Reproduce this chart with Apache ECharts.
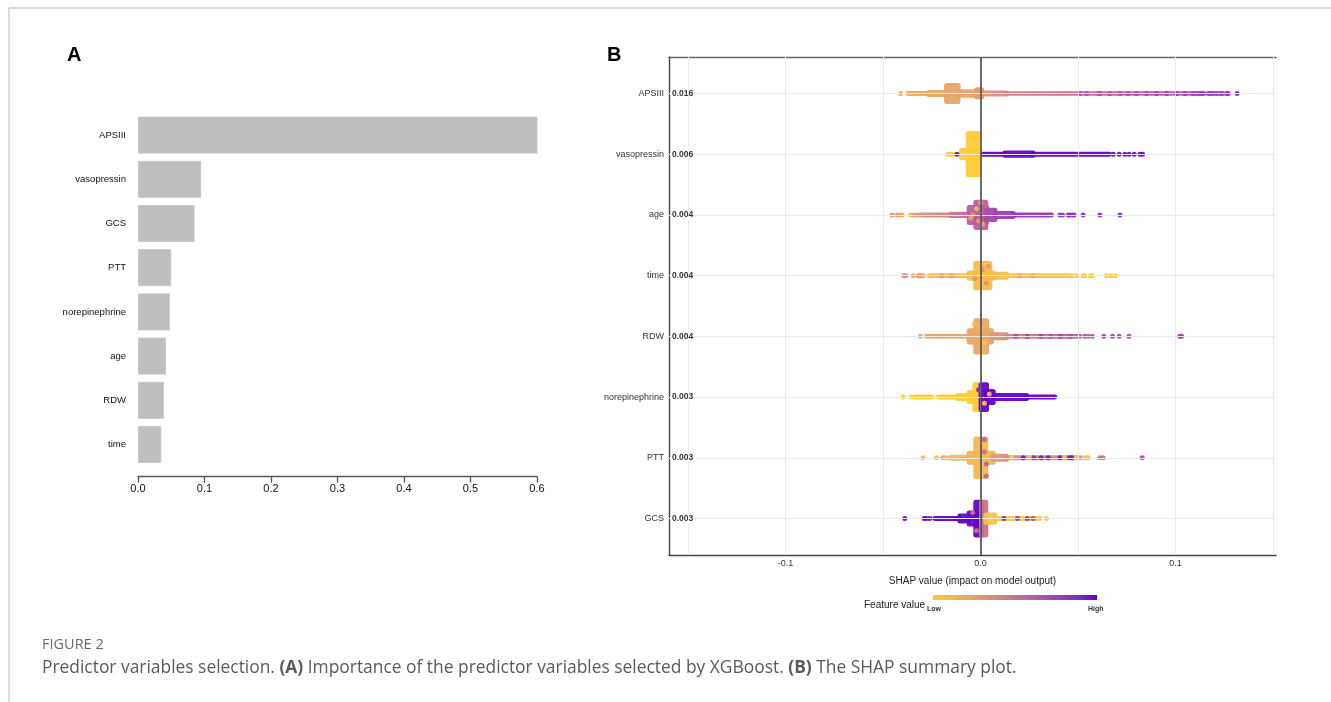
<!DOCTYPE html>
<html><head><meta charset="utf-8">
<script src="https://cdn.jsdelivr.net/npm/echarts@6/dist/echarts.min.js"></script>
<style>html,body{margin:0;padding:0;background:#fff}#c{width:1331px;height:702px}</style>
</head><body><div id="c"></div>
<script>
// ---------- Panel A data ----------
const importanceNames = ['APSIII','vasopressin','GCS','PTT','norepinephrine','age','RDW','time'];
const importanceValues = [0.603,0.095,0.085,0.050,0.048,0.042,0.039,0.035];
const importanceTicks = [0,0.1,0.2,0.3,0.4,0.5,0.6];

// ---------- Panel B data (row 1 = bottom) ----------
const shapNames = ['GCS','PTT','norepinephrine','RDW','time','age','vasopressin','APSIII'];
const shapMeans = ['0.003','0.003','0.003','0.004','0.004','0.004','0.006','0.016'];
const shapTicks = [-0.1, 0, 0.1];
const shapGrid = [-0.15,-0.1,-0.05,0,0.05,0.1,0.15];

// bands: [shapStart, shapEnd, halfSpread(rows), featValStart, featValEnd]
// dots:  [shap, featVal, spreadOffset(rows)]
const apsBands = [[-0.0371,-0.0265,0.041,0.2,0.2],[-0.0265,-0.0174,0.058,0.2,0.22],[-0.0174,-0.0115,0.173,0.22,0.22],
  [-0.0115,-0.0019,0.07,0.22,0.25],[-0.0019,0.0005,0.1,0.25,0.3],[0.0005,0.0133,0.05,0.3,0.4],
  [0.0133,0.060,0.038,0.42,0.55],[0.060,0.1085,0.038,0.55,0.65]];
const apsDots = [[-0.0409,0.2],[0.051,0.7],[0.0544,0.7],[0.0612,0.7],[0.0663,0.7],[0.0715,0.72],[0.0757,0.72],[0.08,0.75],
  [0.0851,0.75],[0.0903,0.78],[0.0954,0.78],[0.1005,0.8],[0.1048,0.8],[0.109,0.8],[0.1106,0.85],[0.112,0.8],[0.1132,0.85],
  [0.1145,0.85],[0.1168,0.85],[0.1181,0.8],[0.1193,0.85],[0.121,0.85],[0.1227,0.8],[0.1241,0.85],[0.1262,0.85],[0.127,0.85],[0.1316,0.9]];

const vasoBands = [[-0.0097,-0.0003,0.1,0,0],[-0.0063,-0.0009,0.38,0,0],[0.0014,0.0125,0.041,1,1],
  [0.0125,0.027,0.06,1,1],[0.027,0.0662,0.041,1,1]];
const vasoDots = [[-0.0166,0],[-0.0155,0],[-0.0145,0],[-0.0135,0],[-0.012,1],[0.0681,1],[0.0711,1],[0.074,1],
  [0.0762,1],[0.0788,1],[0.0817,1],[0.0831,1]];

const ageBands = [[-0.0303,-0.0154,0.041,0.35,0.4],[-0.0154,-0.0063,0.05,0.45,0.6],[-0.0058,0.0031,0.165,0.6,0.62],
  [-0.0024,0.0027,0.25,0.6,0.6],[0.0031,0.0074,0.116,0.7,0.75],[0.0074,0.0168,0.066,0.75,0.8],[0.0168,0.0364,0.041,0.8,0.82]];
const ageDots = [[-0.0453,0.3],[-0.0427,0.3],[-0.041,0.2],[-0.0402,0.2],[-0.0359,0.1],[-0.0345,0.25],[-0.0328,0.3],[-0.032,0.3],
  [0.0407,0.85],[0.0421,0.85],[0.045,0.85],[0.0458,0.85],[0.047,0.8],[0.048,0.85],[0.0526,0.85],[0.0612,0.85],[0.0715,0.85],
  [-0.002,0.1,0.1],[0.001,0.15,-0.15],[-0.004,0.3,0.0],[0.0,0.2,0.2],[-0.005,0.2,-0.05],[-0.001,0.3,-0.1]];

const timeBands = [[-0.0243,-0.0063,0.041,0.1,0.1],[-0.0058,0.0065,0.083,0.08,0.08],[-0.0024,0.0048,0.24,0.08,0.08],
  [0.0065,0.0133,0.066,0.08,0.08],[0.0133,0.0441,0.041,0.06,0.06]];
const timeDots = [[-0.0393,0.35],[-0.0383,0.35],[-0.0345,0.25],[-0.032,0.3],[-0.0311,0.3],[-0.0303,0.25],[-0.0294,0.2],
  [-0.0263,0.1],[-0.0251,0.1],[0.0455,0.05],[0.0467,0.05],[0.0492,0.05],[0.0526,0.05],[0.0535,0.05],[0.0564,0.05],
  [0.0573,0.05],[0.0646,0.05],[0.0668,0.05],[0.0692,0.05],[0.001,0.3,0.1],[-0.003,0.3,-0.05],[0.004,0.25,0.15],
  [0.003,0.3,-0.12],[-0.02,0.3],[-0.015,0.25],[0.02,0.25],[0.027,0.2]];

const rdwBands = [[-0.0262,-0.0058,0.041,0.22,0.22],[-0.0058,0.0056,0.132,0.22,0.22],[-0.0024,0.0031,0.3,0.2,0.2],
  [0.0056,0.0133,0.066,0.3,0.35],[0.0133,0.0511,0.041,0.4,0.6]];
const rdwDots = [[-0.0308,0.22],[-0.0277,0.22],[0.0535,0.7],[0.0552,0.6],[0.0573,0.7],[0.0632,0.75],[0.0677,0.75],
  [0.0711,0.75],[0.0761,0.75],[0.1022,0.8],[0.1031,0.8],[0.018,0.7],[0.024,0.75],[0.031,0.75],[0.036,0.7],[0.041,0.75],
  [0.046,0.7],[0.0,0.05,0.15],[0.002,0.05,-0.1],[-0.003,0.1,0.2],[0.001,0.1,-0.25]];

const norBands = [[-0.0337,-0.0251,0.041,0,0],[-0.0217,-0.0115,0.041,0,0],[-0.0115,-0.0058,0.066,0,0],
  [-0.0058,0.0,0.116,0,0],[-0.0029,0.0,0.245,0,0],[0.0003,0.0031,0.245,1,1],[0.0031,0.0065,0.132,1,1],
  [0.0065,0.0236,0.066,1,1],[0.0236,0.0381,0.041,1,1]];
const norDots = [[-0.0397,0],[-0.0354,0],[0.0045,0.05,0.05],[0.002,0.0,-0.1],[-0.001,0.9,0.12]];

const pttBands = [[-0.0149,-0.0058,0.05,0.12,0.12],[-0.0058,0.0065,0.116,0.12,0.15],[-0.0024,0.0027,0.35,0.12,0.12],
  [0.0065,0.0133,0.066,0.3,0.35],[0.0133,0.0511,0.041,0.35,0.4]];
const pttDots = [[-0.0294,0.1],[-0.0226,0.1],[-0.0195,0.2],[-0.0183,0.15],[-0.0166,0.1],[0.053,0.05],[0.0544,0.05],
  [0.0552,0.05],[0.0612,0.5],[0.0629,0.55],[0.0829,0.75],[0.0219,0.95],[0.0273,0.9],[0.0311,0.95],[0.0347,0.95],
  [0.0407,0.95],[0.0455,0.9],[0.0468,0.95],[0.016,0.0],[0.025,0.05],[0.043,0.05],[0.049,0.0],
  [0.002,0.6,0.3],[0.003,0.6,-0.3],[0.002,0.5,0.1],[0.003,0.6,-0.1]];

const gcsBands = [[-0.0234,-0.0106,0.041,1,1],[-0.0106,-0.0058,0.083,1,1],[-0.0058,0.0,0.132,1,0.95],
  [-0.0024,0.0005,0.31,1,1],[0.0005,0.0027,0.31,0.5,0.5],[0.0027,0.0073,0.1,0.05,0.05],[0.0073,0.0287,0.041,0.05,0.05]];
const gcsDots = [[-0.0388,1],[-0.0289,1],[-0.0277,1],[-0.026,1],[0.0304,0.05],[0.0338,0.05],[0.012,0.9],[0.019,0.85],
  [0.024,0.8],[0.027,0.7],[-0.004,0.5,0.1],[-0.002,0.5,-0.2]];

// ---------- colour scale (Lab interpolation #FFCC33 -> #6600CC) ----------
function hex2rgb(h){return [1,3,5].map(i=>parseInt(h.substr(i,2),16));}
function toLab(rgb){
  const l=rgb.map(c=>{c/=255;return c<=0.04045?c/12.92:Math.pow((c+0.055)/1.055,2.4);});
  const X=(0.4124*l[0]+0.3576*l[1]+0.1805*l[2])/0.95047,Y=0.2126*l[0]+0.7152*l[1]+0.0722*l[2],Z=(0.0193*l[0]+0.1192*l[1]+0.9505*l[2])/1.08883;
  const f=t=>t>0.008856?Math.cbrt(t):7.787*t+16/116;
  return [116*f(Y)-16,500*(f(X)-f(Y)),200*(f(Y)-f(Z))];
}
function fromLab(L,a,b){
  const fy=(L+16)/116,fx=fy+a/500,fz=fy-b/200;
  const fi=t=>t*t*t>0.008856?t*t*t:(t-16/116)/7.787;
  const X=0.95047*fi(fx),Y=fi(fy),Z=1.08883*fi(fz);
  const r=[3.2406*X-1.5372*Y-0.4986*Z,-0.9689*X+1.8758*Y+0.0415*Z,0.0557*X-0.2040*Y+1.0570*Z];
  return 'rgb('+r.map(c=>{c=c<=0.0031308?12.92*c:1.055*Math.pow(c,1/2.4)-0.055;return Math.round(Math.max(0,Math.min(1,c))*255);}).join(',')+')';
}
const labLow=toLab(hex2rgb('#FFCC33')), labHigh=toLab(hex2rgb('#6600CC'));
function fv(t){return fromLab(labLow[0]+(labHigh[0]-labLow[0])*t,labLow[1]+(labHigh[1]-labLow[1])*t,labLow[2]+(labHigh[2]-labLow[2])*t);}

// ---------- assemble ----------
const featureRows = [[gcsBands,gcsDots],[pttBands,pttDots],[norBands,norDots],[rdwBands,rdwDots],
  [timeBands,timeDots],[ageBands,ageDots],[vasoBands,vasoDots],[apsBands,apsDots]];
const bandData=[], dotData=[];
featureRows.forEach((fr,i)=>{
  const row=i+1;
  fr[0].forEach(b=>bandData.push([row,b[0],b[1],b[2],b[3],b[4]]));
  fr[1].forEach(d=>dotData.push([d[0],row+(d[2]||0),d[1]]));
});

const chart = echarts.init(document.getElementById('c'), null, {renderer:'canvas'});
const FONT='Liberation Sans, Arial, sans-serif';
const CAPFONT='"Open Sans", "Noto Sans", sans-serif';
const legendStops=[]; for(let i=0;i<=10;i++) legendStops.push({offset:i/10,color:fv(i/10)});

chart.setOption({
  animation:false,
  backgroundColor:'#fff',
  textStyle:{fontFamily:FONT},
  grid:[
    {left:138,width:399,top:113,height:353.6,containLabel:false},
    {left:669,right:55,top:57,bottom:147,containLabel:false}
  ],
  xAxis:[
    {gridIndex:0,type:'value',min:0,max:0.6,interval:0.1,offset:10,
     axisLine:{show:true,lineStyle:{color:'#555',width:1.3}},
     axisTick:{show:true,length:6,lineStyle:{color:'#555',width:1.3}},
     axisLabel:{fontSize:11,color:'#111',margin:7,formatter:v=>v.toFixed(1)},
     splitLine:{show:false}},
    {gridIndex:1,type:'value',min:-0.1597,max:0.1515,position:'bottom',
     axisLine:{show:true,onZero:false,lineStyle:{color:'#444',width:1.4}},
     axisTick:{show:false},
     axisLabel:{customValues:shapTicks,fontSize:9,color:'#333',margin:4,formatter:v=>v.toFixed(1)},
     splitLine:{show:false},
     name:'SHAP value (impact on model output)',nameLocation:'middle',nameGap:21,
     nameTextStyle:{fontSize:10,color:'#222'}},
    {gridIndex:1,type:'value',min:-0.1597,max:0.1515,position:'top',
     axisLine:{show:true,onZero:false,lineStyle:{color:'#666',width:1.4}},
     axisTick:{show:false},axisLabel:{show:false},splitLine:{show:false}}
  ],
  yAxis:[
    {gridIndex:0,type:'category',inverse:true,data:importanceNames,
     axisLine:{show:false},axisTick:{show:false},
     axisLabel:{fontSize:9.5,color:'#111',margin:12}},
    {gridIndex:1,type:'value',min:0.4,max:8.6,position:'left',
     axisLine:{show:true,onZero:false,lineStyle:{color:'#444',width:1.4}},
     axisTick:{show:false},splitLine:{show:false},
     axisLabel:{customValues:[1,2,3,4,5,6,7,8],fontSize:9,color:'#333',margin:5,formatter:v=>shapNames[Math.round(v)-1]}},
    {gridIndex:1,type:'value',min:0.4,max:8.6,position:'left',z:5,
     axisLine:{show:false},axisTick:{show:false},splitLine:{show:false},
     axisLabel:{inside:true,customValues:[1,2,3,4,5,6,7,8],fontSize:8.5,fontWeight:'bold',color:'#333',margin:2,
       backgroundColor:'#fff',padding:[0,1,0,1],formatter:v=>shapMeans[Math.round(v)-1]}}
  ],
  series:[
    {type:'bar',xAxisIndex:0,yAxisIndex:0,data:importanceValues,barWidth:37,
     itemStyle:{color:'#bebebe',borderColor:'#c8c8c8',borderWidth:1},silent:true},
    {type:'scatter',xAxisIndex:1,yAxisIndex:1,data:[],z:1,silent:true,
     markLine:{silent:true,symbol:'none',label:{show:false},animation:false,
       data:shapGrid.map(v=>({xAxis:v,lineStyle:{color:'#ebebeb',width:1,type:'solid'}}))
         .concat([1,2,3,4,5,6,7,8].map(v=>({yAxis:v,lineStyle:{color:'#ebebeb',width:1,type:'solid'}})))
         .concat([{xAxis:0,lineStyle:{color:'#4a4a4a',width:1.6,type:'solid'}}])}},
    {type:'custom',xAxisIndex:1,yAxisIndex:1,data:bandData,z:2,silent:true,
     encode:{x:[1,2],y:0},
     renderItem:function(params,api){
       const row=api.value(0),x0=api.value(1),x1=api.value(2),hw=api.value(3);
       const p0=api.coord([x0,row]),p1=api.coord([x1,row]);
       const h=api.size([0,hw])[1];
       return {type:'rect',shape:{x:p0[0]-2.5,y:p0[1]-h,width:p1[0]-p0[0]+5,height:2*h,r:2.5},
         style:{fill:new echarts.graphic.LinearGradient(0,0,1,0,[{offset:0,color:fv(api.value(4))},{offset:1,color:fv(api.value(5))}]),opacity:0.95}};
     }},
    {type:'scatter',xAxisIndex:1,yAxisIndex:1,data:dotData,z:3,silent:true,symbolSize:5,
     itemStyle:{opacity:0.9,color:p=>fv(p.data[2])}}
  ],
  graphic:[
    {type:'line',shape:{x1:9,y1:8,x2:1331,y2:8},style:{stroke:'#b5b5b5',lineWidth:1}},
    {type:'line',shape:{x1:9,y1:8,x2:9,y2:702},style:{stroke:'#b5b5b5',lineWidth:1}},
    {type:'text',left:67,top:45,style:{text:'A',font:'bold 20px '+FONT,fill:'#000'}},
    {type:'text',left:607,top:45,style:{text:'B',font:'bold 20px '+FONT,fill:'#000'}},
    {type:'text',x:864,y:605,style:{text:'Feature value',font:'10px '+FONT,fill:'#222',verticalAlign:'middle'}},
    {type:'rect',shape:{x:933,y:595,width:164,height:5},style:{fill:new echarts.graphic.LinearGradient(0,0,1,0,legendStops)}},
    {type:'text',x:927,y:609,style:{text:'Low',font:'bold 7px '+FONT,fill:'#333',verticalAlign:'middle'}},
    {type:'text',x:1088,y:609,style:{text:'High',font:'bold 7px '+FONT,fill:'#333',verticalAlign:'middle'}},
    {type:'text',x:42,y:645,style:{text:'FIGURE 2',font:'14.5px '+CAPFONT,fill:'#6b6b6b',verticalAlign:'middle'}},
    {type:'text',x:42,y:668,style:{
      text:'Predictor variables selection. {b|(A)} Importance of the predictor variables selected by XGBoost. {b|(B)} The SHAP summary plot.',
      font:'17.4px '+CAPFONT,fill:'#5a5a5a',verticalAlign:'middle',
      rich:{b:{fontWeight:'bold',fontSize:17.4,fontFamily:CAPFONT,fill:'#5a5a5a'}}}}
  ]
});
</script></body></html>
